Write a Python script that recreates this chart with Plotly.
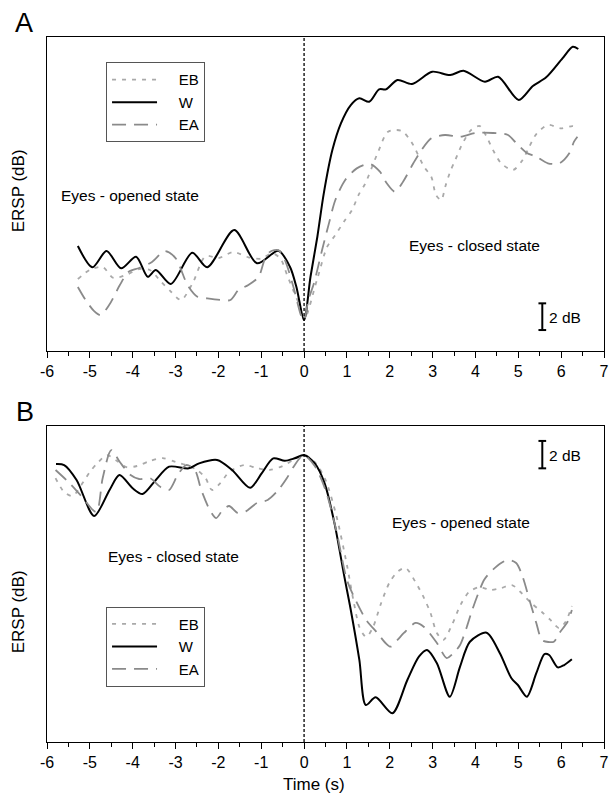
import plotly.graph_objects as go

# ---------------- Panel A (eyes opened -> closed), ERSP in dB ----------------
tA_W = [-5.28, -4.94, -4.61, -4.27, -3.92, -3.65, -3.46, -3.11, -2.61, -2.26, -1.63, -1.10, -0.60, -0.33, -0.18, 0.0,
        0.15, 0.31, 0.46, 0.66, 0.86, 1.09, 1.29, 1.52, 1.75, 1.91, 2.18, 2.52, 2.99, 3.41, 3.72, 4.22, 4.53, 5.01,
        5.34, 5.65, 6.03, 6.27, 6.40]
yA_W = [5.54, 3.95, 5.17, 3.87, 4.74, 3.24, 3.75, 2.70, 5.04, 3.95, 6.74, 4.25, 5.19, 3.99, 2.49, 0.0,
        3.24, 6.24, 9.49, 12.73, 14.73, 16.10, 16.61, 16.35, 17.28, 17.28, 17.98, 17.68, 18.60, 18.35, 18.67, 17.85,
        18.22, 16.48, 17.53, 18.18, 19.60, 20.47, 20.30]

tA_EB = [-5.28, -5.0, -4.7, -4.45, -4.1, -3.85, -3.6, -3.35, -3.1, -2.87, -2.6, -2.3, -2.0, -1.65, -1.3, -1.0, -0.75,
         -0.55, -0.4, -0.25, -0.12, 0.0, 0.3, 0.54, 0.73, 0.93, 1.12, 1.27, 1.43, 1.73, 1.96, 2.27, 2.5, 2.8, 2.97,
         3.08, 3.2, 3.3, 3.41, 3.53, 3.68, 3.9, 4.1, 4.26, 4.41, 4.6, 4.88, 5.1, 5.25, 5.42, 5.69, 6.0, 6.27, 6.38]
yA_EB = [3.07, 3.75, 3.97, 3.15, 3.45, 3.82, 3.75, 2.92, 2.10, 1.50, 2.77, 4.79, 4.64, 5.09, 4.70, 4.60, 5.00,
         4.60, 3.40, 2.20, 1.20, 0.0, 3.00, 5.49, 6.37, 7.36, 8.24, 9.36, 10.24, 12.61, 14.10, 14.18, 13.36, 11.48, 10.73,
         9.36, 8.99, 10.04, 11.11, 11.99, 13.11, 14.23, 14.53, 13.73, 12.73, 11.74, 11.24, 11.99, 12.94, 13.93, 14.61,
         14.36, 14.53, 14.38]

tA_EA = [-5.28, -5.1, -4.9, -4.75, -4.55, -4.3, -4.1, -3.85, -3.55, -3.25, -3.0, -2.72, -2.49, -2.26, -1.95, -1.72,
         -1.53, -1.3, -1.06, -0.91, -0.79, -0.6, -0.45, -0.25, -0.06, 0.0, 0.1, 0.23, 0.42, 0.58, 0.73, 0.96, 1.23,
         1.54, 1.77, 1.93, 2.12, 2.31, 2.55, 2.74, 2.97, 3.29, 3.64, 4.0, 4.41, 4.76, 4.95, 5.19, 5.42, 5.69, 5.96,
         6.19, 6.3, 6.38]
yA_EA = [2.47, 1.50, 0.67, 0.37, 1.12, 2.62, 3.60, 3.90, 4.34, 5.17, 4.64, 2.62, 1.75, 1.62, 1.50, 1.50,
         2.25, 2.62, 3.24, 4.62, 5.12, 5.24, 4.50, 2.49, 0.25, 0.0, 1.50, 2.75, 5.24, 7.24, 8.99, 10.49, 11.36,
         11.69, 11.11, 10.24, 9.61, 10.36, 11.74, 12.73, 13.61, 13.86, 13.73, 14.01, 14.01, 13.86, 13.26, 12.53, 12.23,
         11.74, 11.74, 12.49, 13.36, 13.73]

# ---------------- Panel B (eyes closed -> opened), ERSP in dB ----------------
tB_W = [-5.79, -5.6, -5.31, -4.9, -4.54, -4.31, -4.0, -3.77, -3.46, -3.15, -2.69, -2.45, -2.03, -1.68, -1.26, -0.99,
        -0.72, -0.45, -0.22, 0.0, 0.25, 0.48, 0.71, 0.94, 1.09, 1.29, 1.44, 1.67, 2.06, 2.41, 2.68, 2.87, 3.1, 3.40,
        3.64, 3.87, 4.26, 4.57, 4.84, 4.99, 5.2, 5.42, 5.61, 5.72, 5.92, 6.07, 6.25]
yB_W = [-0.66, -0.73, -1.82, -4.45, -2.55, -1.46, -2.43, -2.85, -1.82, -0.85, -0.97, -0.61, -0.36, -1.09, -2.39, -1.34,
        -0.24, -0.42, -0.24, 0.0, -0.61, -2.07, -4.99, -8.88, -11.31, -14.96, -18.25, -17.69, -18.85, -16.42, -14.72,
        -14.23, -15.20, -17.64, -15.45, -13.63, -12.97, -14.47, -16.30, -16.79, -17.64, -15.93, -14.53, -14.60, -15.50,
        -15.33, -14.91]

tB_EB = [-5.8, -5.6, -5.4, -5.2, -5.0, -4.8, -4.6, -4.4, -4.15, -3.9, -3.6, -3.3, -3.0, -2.75, -2.5, -2.3, -2.15,
         -1.95, -1.75, -1.4, -1.1, -0.8, -0.5, -0.25, 0.0, 0.25, 0.5, 0.75, 1.0, 1.15, 1.3, 1.45, 1.6, 1.8, 2.0, 2.2,
         2.37, 2.6, 2.8, 2.95, 3.1, 3.25, 3.45, 3.65, 3.85, 4.1, 4.35, 4.6, 4.85, 5.05, 5.3, 5.55, 5.75, 5.95, 6.1, 6.25]
yB_EB = [-1.68, -2.70, -2.99, -2.19, -1.24, -0.51, 0.0, -0.36, -0.88, -0.80, -0.44, -0.22, -0.51, -0.73, -1.09, -1.68,
         -2.55, -2.04, -1.24, -0.73, -0.95, -1.09, -0.80, -0.36, 0.0, -0.51, -1.82, -4.38, -8.03, -10.58, -12.63, -13.28,
         -12.63, -10.80, -9.27, -8.47, -8.25, -9.27, -10.44, -11.53, -12.99, -13.50, -12.41, -10.95, -10.00, -9.64,
         -9.85, -9.71, -9.49, -10.00, -10.80, -11.46, -12.04, -12.63, -12.19, -11.02]

tB_EA = [-5.8, -5.5, -5.2, -4.85, -4.7, -4.5, -4.3, -4.05, -3.85, -3.6, -3.35, -3.15, -2.95, -2.75, -2.55, -2.4, -2.2,
         -2.05, -1.9, -1.75, -1.55, -1.35, -1.1, -0.85, -0.6, -0.4, -0.25, -0.1, 0.0, 0.25, 0.5, 0.75, 1.0, 1.2, 1.45,
         1.71, 1.9, 2.02, 2.18, 2.33, 2.6, 2.8, 3.1, 3.33, 3.49, 3.64, 3.8, 3.91, 4.07, 4.2, 4.35, 4.6, 4.76, 4.95, 5.1,
         5.26, 5.42, 5.55, 5.7, 5.83, 5.96, 6.15, 6.25]
yB_EA = [-1.09, -1.97, -2.99, -4.16, -1.68, 0.36, -0.51, -1.46, -1.75, -1.68, -2.34, -2.55, -1.46, -0.73, -1.09, -2.55,
         -4.01, -4.60, -4.01, -3.72, -4.23, -4.09, -3.50, -3.28, -2.55, -1.68, -0.88, -0.22, 0.0, -0.80, -2.55, -5.47,
         -9.12, -10.58, -12.04, -12.99, -13.72, -13.99, -13.50, -12.99, -12.26, -12.55, -13.72, -14.82, -14.45, -13.87,
         -12.53, -11.44, -10.07, -9.12, -8.54, -7.88, -7.66, -7.88, -8.88, -10.58, -12.26, -13.50, -13.65, -13.63,
         -12.99, -12.17, -11.31]

groups = ["EB", "W", "EA"]
x_ticks = [-6, -5, -4, -3, -2, -1, 0, 1, 2, 3, 4, 5, 6, 7]

FONT = "Liberation Sans, Arial, Helvetica, sans-serif"
STYLE = {
    "EB": dict(color="#a9a9a9", width=1.8, dash="4px,6px"),
    "W": dict(color="black", width=2.0),
    "EA": dict(color="#8a8a8a", width=1.8, dash="14px,8px"),
}
PAD = "\u00a0\u00a0\u00a0\u00a0"

fig = go.Figure()
panelA = {"EB": (tA_EB, yA_EB), "W": (tA_W, yA_W), "EA": (tA_EA, yA_EA)}
panelB = {"EB": (tB_EB, yB_EB), "W": (tB_W, yB_W), "EA": (tB_EA, yB_EA)}
for name in groups:
    t, y = panelA[name]
    fig.add_trace(go.Scatter(x=t, y=y, mode="lines", name=PAD + name,
                             line=dict(STYLE[name], shape="spline", smoothing=0.8),
                             xaxis="x", yaxis="y", legend="legend", legendgroup="A" + name))
for name in groups:
    t, y = panelB[name]
    fig.add_trace(go.Scatter(x=t, y=y, mode="lines", name=PAD + name,
                             line=dict(STYLE[name], shape="spline", smoothing=0.8),
                             xaxis="x2", yaxis="y2", legend="legend2", legendgroup="B" + name))

xcommon = dict(range=[-6, 7], tickvals=x_ticks, ticktext=[str(v) for v in x_ticks], ticks="outside", ticklen=6,
               tickwidth=1.3, tickcolor="black", showline=True, linecolor="black", linewidth=1.3, mirror=True,
               showgrid=False, zeroline=False, tickfont=dict(size=16, family=FONT, color="black"),
               minor=dict(tickvals=[v + 0.5 for v in x_ticks[:-1]], ticks="outside", ticklen=4, tickwidth=1.3,
                          tickcolor="black"))
ycommon = dict(showline=True, linecolor="black", linewidth=1.3, mirror=True, showticklabels=False, ticks="",
               showgrid=False, zeroline=False)

domA = [(742 - 351) / 705, 1.0]
domB = [0.0, (742 - 426) / 705]

legcommon = dict(xanchor="left", yanchor="top", bordercolor="#555", borderwidth=1, bgcolor="white",
                 font=dict(size=15, family=FONT), tracegroupgap=0, itemwidth=45)

fig.update_layout(
    width=614, height=795, margin=dict(l=47, r=5, t=37, b=53),
    paper_bgcolor="white", plot_bgcolor="white",
    font=dict(family=FONT, color="black"),
    xaxis=dict(xcommon, anchor="y", domain=[0, 1]),
    yaxis=dict(ycommon, anchor="x", domain=domA, range=[-2.32, 21.2]),
    xaxis2=dict(xcommon, anchor="y2", domain=[0, 1]),
    yaxis2=dict(ycommon, anchor="x2", domain=domB, range=[-20.95, 2.12]),
    legend=dict(legcommon, x=0.106, y=0.964),
    legend2=dict(legcommon, x=0.106, y=0.192),
    showlegend=True,
)

# stimulus onset lines
for xr, yr in [("x", "y domain"), ("x2", "y2 domain")]:
    fig.add_shape(type="line", xref=xr, yref=yr, x0=0, x1=0, y0=0, y1=1,
                  line=dict(color="black", width=1.3, dash="3px,2px"))

# 2 dB scale bars
for xr, yr, y0 in [("x", "y", -0.75), ("x2", "y2", -0.97)]:
    fig.add_shape(type="line", xref=xr, yref=yr, x0=5.56, x1=5.56, y0=y0, y1=y0 + 2,
                  line=dict(color="black", width=2))
    for yy in (y0, y0 + 2):
        fig.add_shape(type="line", xref=xr, yref=yr, x0=5.47, x1=5.65, y0=yy, y1=yy,
                      line=dict(color="black", width=2))

ann = [
    dict(x=-4.06, y=9.36, xref="x", yref="y", text="Eyes - opened state"),
    dict(x=3.97, y=5.57, xref="x", yref="y", text="Eyes - closed state"),
    dict(x=5.68, y=0.22, xref="x", yref="y", text="2 dB", xanchor="left"),
    dict(x=-3.05, y=-7.42, xref="x2", yref="y2", text="Eyes - closed state"),
    dict(x=3.66, y=-4.94, xref="x2", yref="y2", text="Eyes - opened state"),
    dict(x=5.68, y=-0.05, xref="x2", yref="y2", text="2 dB", xanchor="left"),
]
for a in ann:
    a.setdefault("xanchor", "center")
    fig.add_annotation(showarrow=False, yanchor="middle", font=dict(size=15.5, family=FONT, color="black"), **a)

# panel letters and axis titles (paper coordinates from pixel positions)
def px(xp):
    return (xp - 47) / 562

def py(yp):
    return (742 - yp) / 705

for txt, xp, yp, size, angle in [("A", 23.5, 23.3, 27, 0), ("B", 25, 412.5, 27, 0),
                                  ("ERSP (dB)", 18, 191, 17, -90), ("ERSP (dB)", 18, 612, 17, -90),
                                  ("Time (s)", 316, 784, 17, 0)]:
    fig.add_annotation(x=px(xp), y=py(yp), xref="paper", yref="paper", text=txt, textangle=angle,
                       xanchor="center", yanchor="middle", showarrow=False, font=dict(size=size, family=FONT))

fig.write_html("out.html")
